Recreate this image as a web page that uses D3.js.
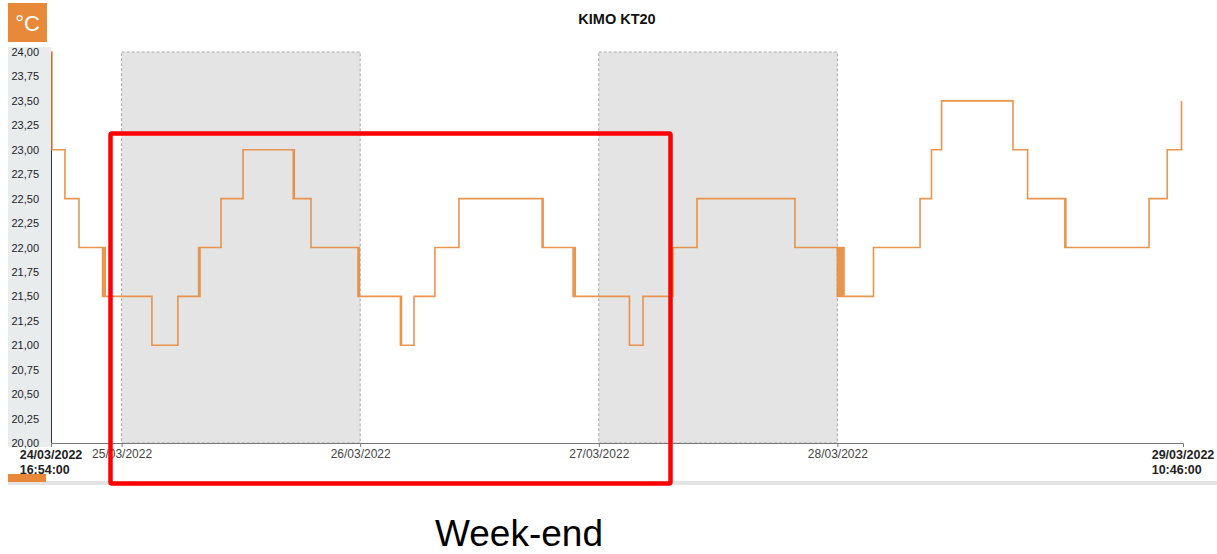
<!DOCTYPE html>
<html>
<head>
<meta charset="utf-8">
<script src="https://cdn.jsdelivr.net/npm/d3@7"></script>
<style>
  body { margin: 0; background: #fff; }
  text { font-family: Arial, "Liberation Sans", sans-serif; }
</style>
</head>
<body>
<script>
// readings of the KIMO KT20 logger (step changes)
var readTimes = [
  "2022-03-24 16:54", "2022-03-24 17:00", "2022-03-24 18:18", "2022-03-24 19:43",
  "2022-03-24 22:05", "2022-03-24 22:09", "2022-03-24 22:13", "2022-03-24 22:17", "2022-03-24 22:21",
  "2022-03-25 03:03", "2022-03-25 05:40",
  "2022-03-25 07:45", "2022-03-25 07:49", "2022-03-25 07:53",
  "2022-03-25 10:00", "2022-03-25 12:13",
  "2022-03-25 17:16", "2022-03-25 17:19", "2022-03-25 17:22",
  "2022-03-25 19:03",
  "2022-03-25 23:47", "2022-03-25 23:51", "2022-03-25 23:55",
  "2022-03-26 04:03", "2022-03-26 04:06", "2022-03-26 04:09",
  "2022-03-26 05:25", "2022-03-26 07:31", "2022-03-26 09:56",
  "2022-03-26 18:18", "2022-03-26 18:21", "2022-03-26 18:24",
  "2022-03-26 21:25", "2022-03-26 21:35", "2022-03-26 21:38",
  "2022-03-27 03:05", "2022-03-27 04:27", "2022-03-27 07:28", "2022-03-27 09:53",
  "2022-03-27 19:44",
  "2022-03-28 00:00", "2022-03-28 00:07", "2022-03-28 00:14", "2022-03-28 00:21",
  "2022-03-28 00:28", "2022-03-28 00:34", "2022-03-28 00:40",
  "2022-03-28 03:38", "2022-03-28 08:19", "2022-03-28 09:28", "2022-03-28 10:29",
  "2022-03-28 17:40", "2022-03-28 19:08",
  "2022-03-28 22:53", "2022-03-28 22:56", "2022-03-28 22:59",
  "2022-03-29 07:21", "2022-03-29 09:11", "2022-03-29 10:37"
];
var readValues = [
  24.0, 23.0, 22.5, 22.0,
  21.5, 22.0, 21.5, 22.0, 21.5,
  21.0, 21.5,
  22.0, 21.5, 22.0,
  22.5, 23.0,
  22.5, 23.0, 22.5,
  22.0,
  21.5, 22.0, 21.5,
  21.0, 21.5, 21.0,
  21.5, 22.0, 22.5,
  22.0, 22.5, 22.0,
  21.5, 22.0, 21.5,
  21.0, 21.5, 22.0, 22.5,
  22.0,
  21.5, 22.0, 21.5, 22.0,
  21.5, 22.0, 21.5,
  22.0, 22.5, 23.0, 23.5,
  23.0, 22.5,
  22.0, 22.5, 22.0,
  22.5, 23.0, 23.5
];
var startTime = "2022-03-24 16:54";
var endTime = "2022-03-29 10:46";
var dayTicks = ["2022-03-25 00:00", "2022-03-26 00:00", "2022-03-27 00:00", "2022-03-28 00:00"];
var shadedDays = ["2022-03-25 00:00", "2022-03-27 00:00"];
var yTicks = d3.range(20, 24.001, 0.25);
var chartTitle = "KIMO KT20";
var unitLabel = "°C";
var noteLabel = "Week-end";

var parse = d3.timeParse("%Y-%m-%d %H:%M");
var data = readTimes.map(function(t, i){ return {time: parse(t), temp: readValues[i]}; });
var t0 = parse(startTime), t1 = parse(endTime);

var W = 1217, H = 554;
var orange = "#e8893a";
var frFormat = d3.formatLocale({decimal: ",", thousands: ".", grouping: [3], currency: ["", "€"]}).format(".2f");

var x = d3.scaleTime().domain([t0, t1]).range([51, 1183]);
var y = d3.scaleLinear().domain([20, 24]).range([443, 52]);

var svg = d3.select("body").append("svg").attr("width", W).attr("height", H);

// unit box
svg.append("rect").attr("x", 8).attr("y", 3).attr("width", 39).attr("height", 39).attr("fill", orange);
svg.append("text").attr("x", 27.5).attr("y", 31).attr("text-anchor", "middle")
  .attr("fill", "#fff").attr("font-size", 22).text(unitLabel);

// title
svg.append("text").attr("x", 617).attr("y", 24).attr("text-anchor", "middle")
  .attr("font-size", 14.5).attr("font-weight", "bold").attr("fill", "#111").text(chartTitle);

// y label background
svg.append("rect").attr("x", 8).attr("y", 47).attr("width", 43).attr("height", 400).attr("fill", "#e8ecec");

// shaded days
svg.append("g").selectAll("rect").data(shadedDays).enter().append("rect")
  .attr("x", function(d){ return x(parse(d)); })
  .attr("y", y(24))
  .attr("width", function(d){ return x(d3.timeDay.offset(parse(d), 1)) - x(parse(d)); })
  .attr("height", y(20) - y(24))
  .attr("fill", "#e4e4e4")
  .attr("stroke", "#aaa")
  .attr("stroke-width", 1)
  .attr("stroke-dasharray", "3,2");

// y axis
var yAxis = d3.axisLeft(y).tickValues(yTicks).tickFormat(frFormat).tickSize(0).tickPadding(12);
var gy = svg.append("g").attr("transform", "translate(51,0)").call(yAxis);
gy.select(".domain").attr("stroke", "#333");
gy.selectAll("text").attr("font-size", 11).attr("fill", "#1c1c2c").attr("font-family", "Arial, 'Liberation Sans', sans-serif");

// x axis
var xAxis = d3.axisBottom(x).tickValues(dayTicks.map(parse))
  .tickFormat(d3.timeFormat("%d/%m/%Y")).tickSize(4).tickSizeOuter(4).tickPadding(2);
var gx = svg.append("g").attr("transform", "translate(0,443)").call(xAxis);
gx.select(".domain").attr("stroke", "#777");
gx.selectAll(".tick line").attr("stroke", "#777");
gx.selectAll("text").attr("font-size", 12).attr("fill", "#444").attr("font-family", "Arial, 'Liberation Sans', sans-serif");

// start / end labels
[t0, t1].forEach(function(t){
  var g = svg.append("g");
  var l1 = g.append("text").attr("y", 458.5).attr("font-size", 12.5).attr("font-weight", "bold")
    .attr("fill", "#222").text(d3.timeFormat("%d/%m/%Y")(t));
  var w = l1.node().getComputedTextLength();
  var left = x(t) - w / 2;
  l1.attr("x", left);
  g.append("text").attr("x", left).attr("y", 474).attr("font-size", 12.5).attr("font-weight", "bold")
    .attr("fill", "#222").text(d3.timeFormat("%H:%M:%S")(t));
});

// series
var line = d3.line()
  .curve(d3.curveStepAfter)
  .x(function(d){ return x(d.time); })
  .y(function(d){ return y(d.temp); });

svg.append("path").datum(data)
  .attr("fill", "none")
  .attr("stroke", orange)
  .attr("stroke-width", 1.6)
  .attr("stroke-opacity", 0.9)
  .attr("d", line);

// bottom scroll bar
svg.append("rect").attr("x", 8).attr("y", 481).attr("width", 1209).attr("height", 4).attr("fill", "#e3e3e3");
svg.append("rect").attr("x", 8).attr("y", 474).attr("width", 38).attr("height", 8).attr("fill", orange);

// annotation
svg.append("rect").attr("x", 110.5).attr("y", 133.5).attr("width", 560).attr("height", 350)
  .attr("fill", "none").attr("stroke", "#ff0000").attr("stroke-width", 4.5).attr("rx", 1.5);
svg.append("text").attr("x", 519).attr("y", 546).attr("text-anchor", "middle")
  .attr("font-size", 37).attr("fill", "#000").text(noteLabel);
</script>
</body>
</html>
